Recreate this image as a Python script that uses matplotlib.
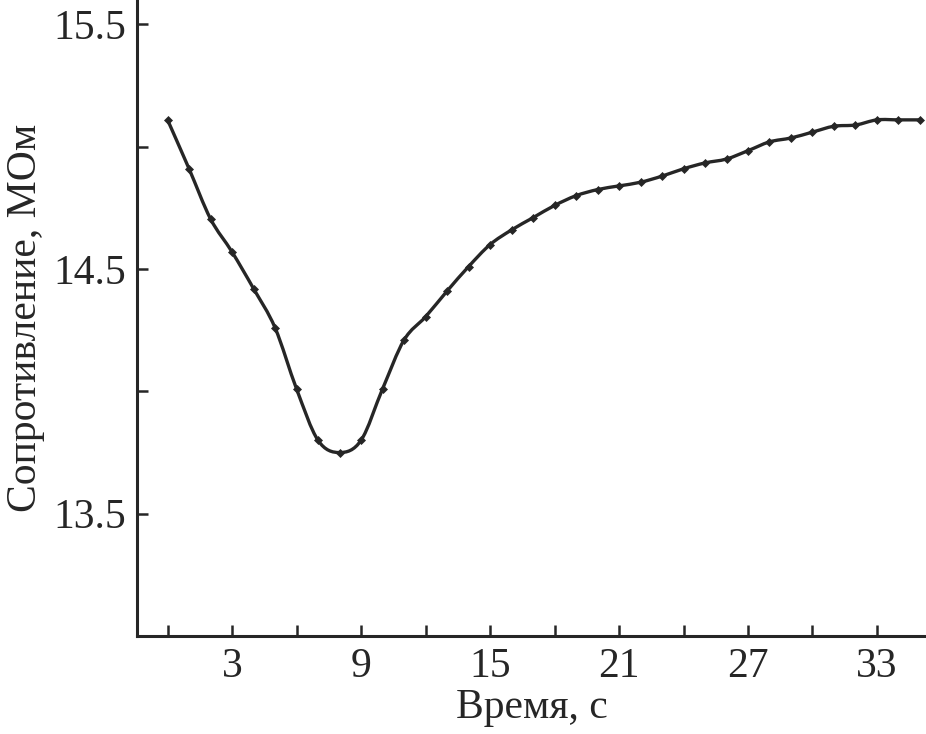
import matplotlib
matplotlib.use("Agg")
import matplotlib.pyplot as plt
from matplotlib.path import Path
from matplotlib.patches import PathPatch
import numpy as np

plt.rcParams['font.family'] = ['Liberation Serif', 'DejaVu Serif']

time_s = list(range(0, 36))
resistance = [15.11, 14.91, 14.705, 14.57, 14.42, 14.26, 14.01, 13.80, 13.75, 13.80,
              14.01, 14.21, 14.305, 14.41, 14.51, 14.60, 14.66, 14.71, 14.76, 14.80,
              14.825, 14.84, 14.855, 14.88, 14.91, 14.934, 14.95, 14.984, 15.02, 15.036,
              15.06, 15.084, 15.089, 15.11, 15.11, 15.11]

x_ticks = list(range(0, 34, 3))
x_labels = ['' if t % 6 == 0 else str(t) for t in x_ticks]
y_ticks = [13.5, 14.0, 14.5, 15.0, 15.5]
y_labels = ['13.5', '', '14.5', '', '15.5']

color = '#262626'
fig = plt.figure(figsize=(9.26, 7.34), dpi=100)
ax = fig.add_axes([0.148, 0.1335, 0.852, 0.8665])

# smooth curve through the data points (Catmull-Rom as cubic Bezier segments)
x = np.asarray(time_s, float)
y = np.asarray(resistance, float)
verts = [(x[0], y[0])]
codes = [Path.MOVETO]
n = len(x)
for i in range(n - 1):
    p0 = np.array([x[max(i - 1, 0)], y[max(i - 1, 0)]])
    p1 = np.array([x[i], y[i]])
    p2 = np.array([x[i + 1], y[i + 1]])
    p3 = np.array([x[min(i + 2, n - 1)], y[min(i + 2, n - 1)]])
    c1 = p1 + (p2 - p0) / 6.0
    c2 = p2 - (p3 - p1) / 6.0
    verts += [tuple(c1), tuple(c2), tuple(p2)]
    codes += [Path.CURVE4, Path.CURVE4, Path.CURVE4]
ax.add_patch(PathPatch(Path(verts, codes), facecolor='none', edgecolor=color,
                       lw=2.4, clip_on=False))
ax.plot(time_s, resistance, ls='none', color=color, marker='D', ms=4,
        markeredgewidth=0.5, clip_on=False)

ax.set_xlim(-1.42, 35.28)
ax.set_ylim(13.0, 15.6)
ax.set_xticks(x_ticks)
ax.set_xticklabels(x_labels)
ax.set_yticks(y_ticks)
ax.set_yticklabels(y_labels)

for s in ['top', 'right']:
    ax.spines[s].set_visible(False)
for s in ['left', 'bottom']:
    ax.spines[s].set_linewidth(2.2)
    ax.spines[s].set_color(color)

ax.tick_params(direction='in', length=8, width=1.8, color=color,
               labelsize=30, labelcolor=color, pad=8)
ax.set_xlabel('Время, с', fontsize=30, color=color, labelpad=2)
ax.set_ylabel('Сопротивление, МОм', fontsize=30, color=color, labelpad=6)

fig.savefig('out.png', dpi=100)
